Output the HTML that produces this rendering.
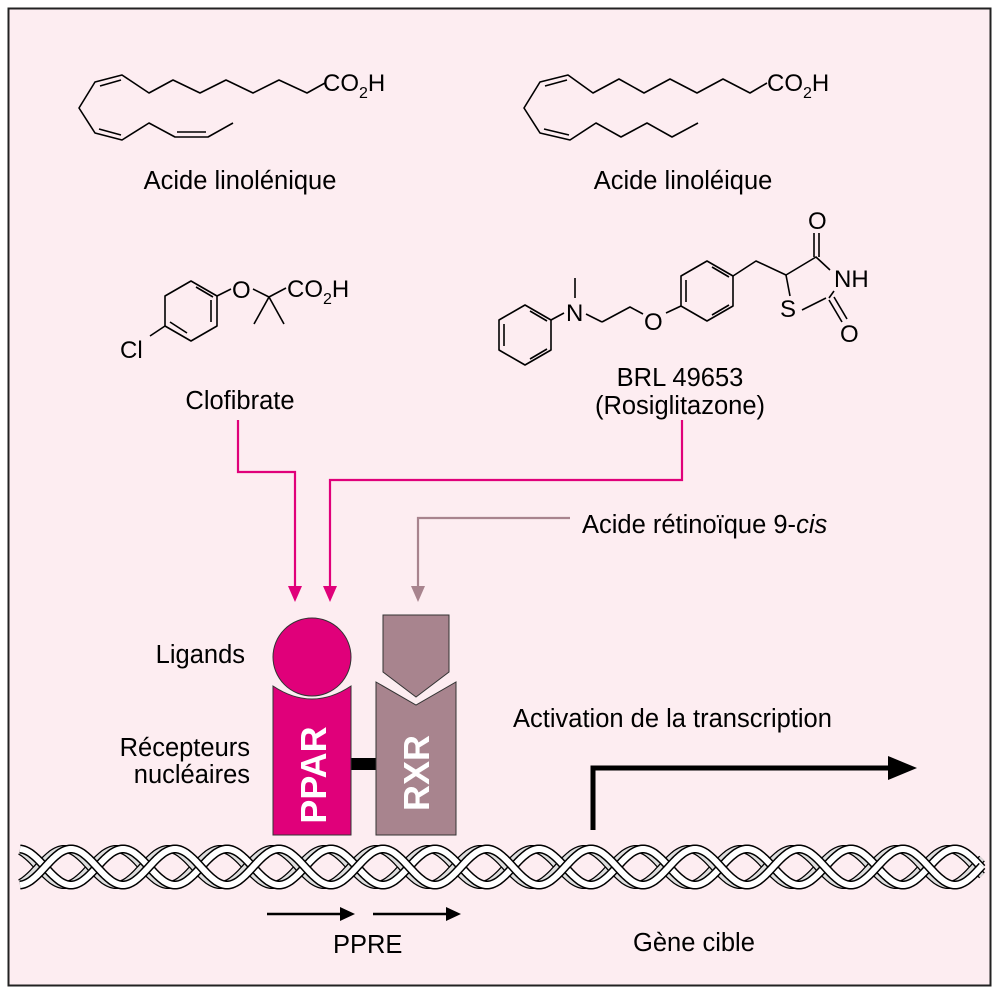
<!DOCTYPE html>
<html><head><meta charset="utf-8"><style>
body{margin:0;background:#fff;}
svg{display:block;}
text{font-family:"Liberation Sans",Arial,sans-serif;fill:#000;}
</style></head><body>
<svg id="s" width="999" height="1000" viewBox="0 0 999 1000" xmlns="http://www.w3.org/2000/svg">
<rect x="8.5" y="8.5" width="982" height="977" fill="#fdedf1" stroke="#222" stroke-width="2"/>
<g fill="none" stroke="#000" stroke-width="1.6" stroke-linejoin="round">
<polyline points="325,83 307,93 279,80 253,93 226,80 200,93 173,80 149,93 122,75 95,82 79,108 95,133 122,140 149,123 175,137 208,137 233,123"/>
<line x1="100" y1="86" x2="121" y2="80"/>
<line x1="99" y1="129" x2="121" y2="135"/>
<line x1="177" y1="132" x2="206" y2="132"/>
<polyline points="767,83 750,93 723,79 697,93 670,79 644,93 619,79 593,93 568,75 540,82 524,108 540,133 570,140 596,123 621,137 647,123 672,137 698,123"/>
<line x1="545" y1="86" x2="567" y2="80"/>
<line x1="544" y1="129" x2="569" y2="135"/>
<polygon points="191,281 217,296 217,326 191,341 165,326 165,296"/>
<line x1="196" y1="287" x2="213" y2="297"/><line x1="211" y1="300" x2="211" y2="322"/><line x1="170" y1="322" x2="187" y2="333"/>
<line x1="217" y1="296" x2="231" y2="289"/>
<line x1="253" y1="289" x2="269" y2="297"/>
<line x1="269" y1="297" x2="286" y2="288"/>
<line x1="269" y1="297" x2="254" y2="324"/>
<line x1="269" y1="297" x2="284" y2="324"/>
<line x1="165" y1="326" x2="150" y2="336"/>
<polygon points="525,305 551,320 551,350 525,365 499,350 499,320"/>
<line x1="530" y1="311" x2="547" y2="321"/><line x1="530" y1="359" x2="547" y2="349"/><line x1="504" y1="324" x2="504" y2="346"/>
<line x1="551" y1="320" x2="564" y2="313"/>
<line x1="575" y1="298" x2="575" y2="278"/>
<line x1="586" y1="314" x2="602" y2="322"/>
<polyline points="602,322 630,307 643,314"/>
<polygon points="707,261 733,276 733,306 707,321 681,306 681,276"/>
<line x1="712" y1="267" x2="729" y2="277"/><line x1="712" y1="315" x2="729" y2="305"/><line x1="686" y1="280" x2="686" y2="302"/>
<line x1="681" y1="306" x2="666" y2="313"/>
<polyline points="733,276 756,261 786,275 816,257 830,270"/>
<line x1="786" y1="275" x2="790" y2="296"/>
<line x1="802" y1="310" x2="826" y2="298"/>
<line x1="829" y1="298" x2="834" y2="291"/>
<line x1="814" y1="257" x2="814" y2="233"/><line x1="819" y1="257" x2="819" y2="233"/>
<line x1="829" y1="300" x2="842" y2="322"/><line x1="834" y1="297" x2="847" y2="319"/>
</g>
<g font-size="24">
<text x="323" y="91">CO<tspan font-size="16" dy="7">2</tspan><tspan dy="-7">H</tspan></text>
<text x="767" y="91">CO<tspan font-size="16" dy="7">2</tspan><tspan dy="-7">H</tspan></text>
<text x="287" y="297">CO<tspan font-size="16" dy="7">2</tspan><tspan dy="-7">H</tspan></text>
<text x="232" y="298">O</text>
<text x="120" y="358">Cl</text>
<text x="566" y="321">N</text>
<text x="644" y="330">O</text>
<text x="834" y="287">NH</text>
<text x="780" y="317">S</text>
<text x="808" y="229">O</text>
<text x="840" y="342">O</text>
</g>
<g font-size="25.5">
<text x="240" y="189" text-anchor="middle">Acide linolénique</text>
<text x="683" y="189" text-anchor="middle">Acide linoléique</text>
<text x="240" y="409" text-anchor="middle">Clofibrate</text>
<text x="680" y="386" text-anchor="middle">BRL 49653</text>
<text x="680" y="414" text-anchor="middle">(Rosiglitazone)</text>
<text x="582" y="533">Acide rétinoïque 9-<tspan font-style="italic">cis</tspan></text>
<text x="245" y="663" text-anchor="end">Ligands</text>
<text x="250" y="756" text-anchor="end">Récepteurs</text>
<text x="250" y="783" text-anchor="end">nucléaires</text>
<text x="513" y="727">Activation de la transcription</text>
<text x="333" y="953">PPRE</text>
<text x="633" y="951">Gène cible</text>
</g>
<g fill="none" stroke-width="2.2">
<polyline points="238,420 238,472 295,472 295,588" stroke="#e0007a"/>
<polyline points="682,420 682,480 330,480 330,588" stroke="#e0007a"/>
<polyline points="570,518 418,518 418,588" stroke="#a8848e"/>
</g>
<polygon points="288,586 302,586 295,602" fill="#e0007a"/>
<polygon points="323,586 337,586 330,602" fill="#e0007a"/>
<polygon points="411,586 425,586 418,602" fill="#a8848e"/>
<rect x="350" y="758" width="28" height="12" fill="#000"/>
<path d="M273,686 Q312,712 351,686 L351,835 L273,835 Z" fill="#e0007a" stroke="#333" stroke-width="1"/>
<circle cx="312" cy="657" r="39" fill="#e0007a" stroke="#333" stroke-width="1"/>
<path d="M376,682 L416,705 L456,682 L456,835 L376,835 Z" fill="#a8848e" stroke="#333" stroke-width="1"/>
<path d="M383,615 L449,615 L449,672 L416,697 L383,672 Z" fill="#a8848e" stroke="#333" stroke-width="1"/>
<text transform="translate(326,775) rotate(-90)" text-anchor="middle" font-size="36" font-weight="bold" style="fill:#fff">PPAR</text>
<text transform="translate(429,773) rotate(-90)" text-anchor="middle" font-size="36" font-weight="bold" style="fill:#fff">RXR</text>
<polyline points="593,830 593,768 892,768" fill="none" stroke="#000" stroke-width="5"/>
<polygon points="888,756 917,768 888,780" fill="#000"/>
<line x1="267" y1="914" x2="342" y2="914" stroke="#000" stroke-width="2.5"/>
<polygon points="340,907 355,914 340,921"/>
<line x1="373" y1="914" x2="448" y2="914" stroke="#000" stroke-width="2.5"/>
<polygon points="446,907 461,914 446,921"/>
<g id="dna"></g>
</svg>
<script>
(function(){
var g=document.getElementById('dna');var NS='http://www.w3.org/2000/svg';
var x0=20,x1=982,cy=867,A=18,P=104;
function strand(ph,dx){var p='';for(var x=x0;x<=x1;x+=1){var y=cy+A*Math.cos((x-71-(dx||0))/P*2*Math.PI+ph);p+=(p?'L':'M')+x+','+y.toFixed(1);}return p;}
function add(d,c,w){var e=document.createElementNS(NS,'path');e.setAttribute('d',d);e.setAttribute('fill','none');e.setAttribute('stroke',c);e.setAttribute('stroke-width',w);g.appendChild(e);}
add(strand(0,-7),'#000',8);add(strand(0,-7),'#dedede',5.5);
add(strand(Math.PI,-7),'#000',8);add(strand(Math.PI,-7),'#dedede',5.5);
add(strand(0),'#000',9);add(strand(0),'#fff',6);
add(strand(Math.PI),'#000',9);add(strand(Math.PI),'#fff',6);
})();
</script>
</body></html>
